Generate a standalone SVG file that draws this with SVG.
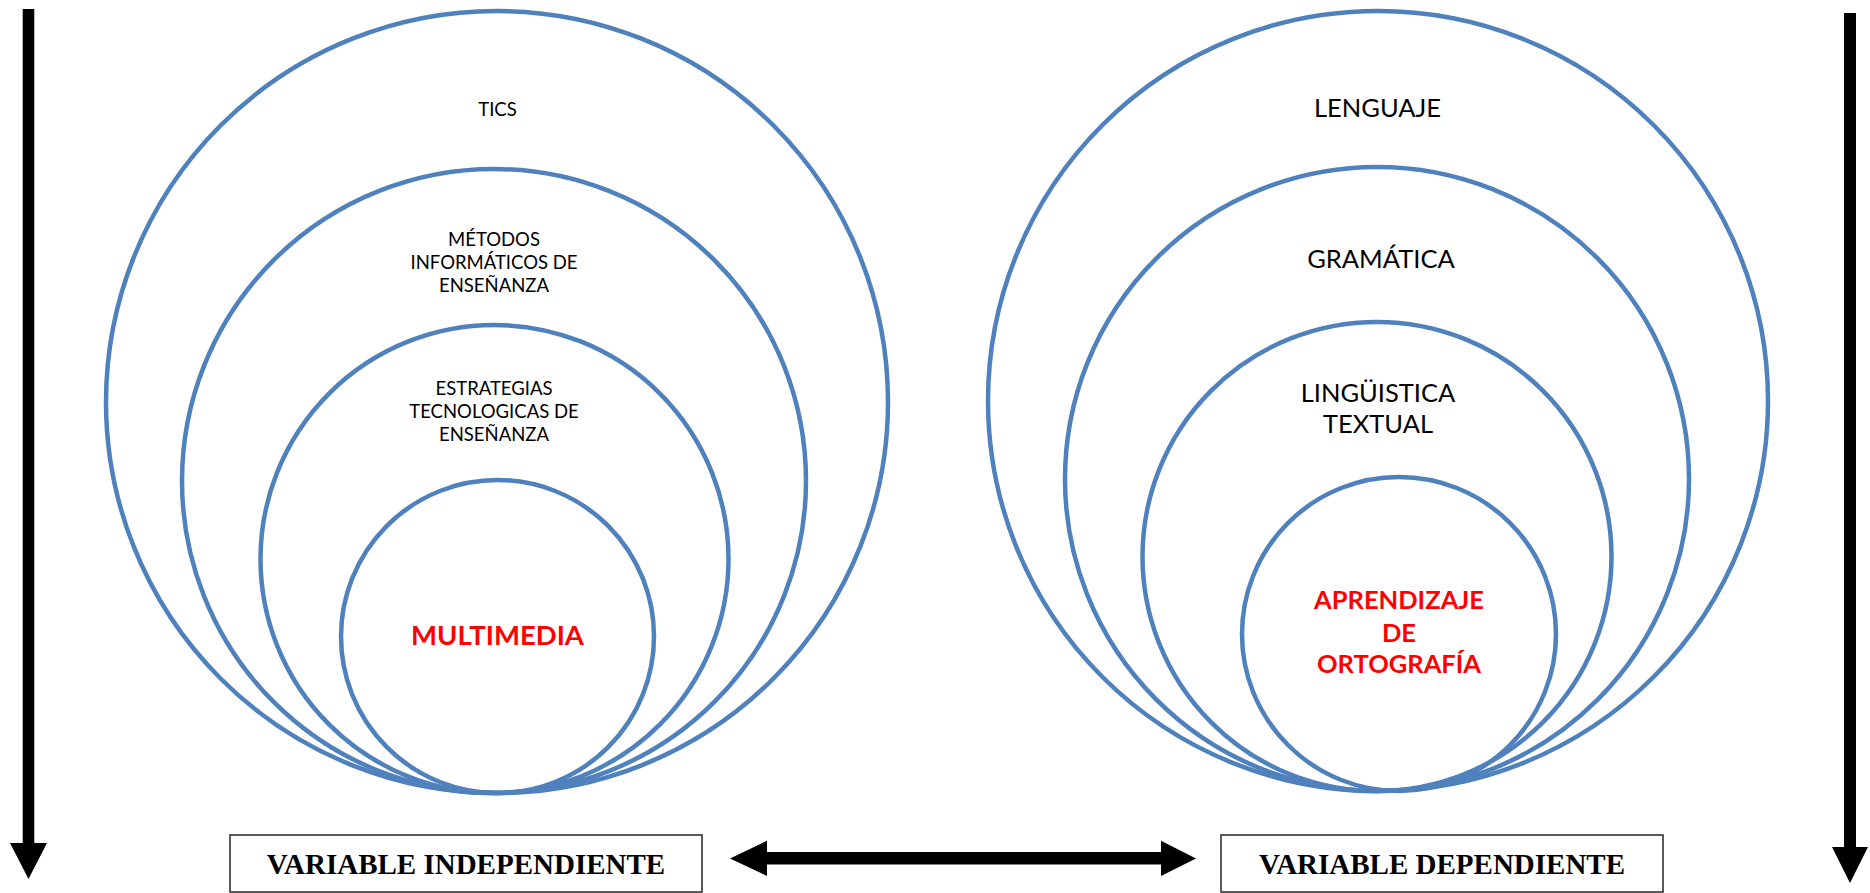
<svg xmlns="http://www.w3.org/2000/svg" width="1870" height="893" viewBox="0 0 1870 893">
<style>
.c{fill:none;stroke:#4F81BD;stroke-width:4.5}
.t{font-family:Lato,"Open Sans",sans-serif;fill:#000;text-anchor:middle}
.s{font-size:18.5px}
.m{font-size:25.5px}
.r{font-family:Lato,"Open Sans",sans-serif;font-weight:bold;font-size:25.5px;fill:#FF0000;text-anchor:middle}
.b{fill:#fff;stroke:#333;stroke-width:1.6}
.bt{font-family:"Liberation Serif","Times New Roman",serif;font-weight:bold;font-size:29px;fill:#000;text-anchor:middle}
.a{fill:#000}
</style>
<rect width="1870" height="893" fill="#fff"/>
<g id="left-circles">
<g id="tics"><circle class="c" cx="497" cy="402" r="391"/><text class="t s" x="497.5" y="116">TICS</text></g>
<g id="metodos"><circle class="c" cx="494" cy="481" r="312"/><text class="t s"><tspan x="494" y="246">MÉTODOS</tspan><tspan x="494" y="269">INFORMÁTICOS DE</tspan><tspan x="494" y="292">ENSEÑANZA</tspan></text></g>
<g id="estrategias"><circle class="c" cx="494.5" cy="559" r="234"/><text class="t s"><tspan x="494" y="395">ESTRATEGIAS</tspan><tspan x="494" y="418">TECNOLOGICAS DE</tspan><tspan x="494" y="441">ENSEÑANZA</tspan></text></g>
<g id="multimedia"><circle class="c" cx="497.5" cy="636.5" r="156.5"/><text class="r" x="497.5" y="645" style="font-size:27.5px">MULTIMEDIA</text></g>
</g>
<g id="right-circles">
<g id="lenguaje"><circle class="c" cx="1378" cy="401" r="390"/><text class="t m" x="1377.5" y="117">LENGUAJE</text></g>
<g id="gramatica"><circle class="c" cx="1377" cy="479" r="312"/><text class="t m" x="1381" y="268">GRAMÁTICA</text></g>
<g id="linguistica"><circle class="c" cx="1377" cy="556.5" r="234.5"/><text class="t m"><tspan x="1378" y="401.5">LINGÜISTICA</tspan><tspan x="1378" y="432.5">TEXTUAL</tspan></text></g>
<g id="aprendizaje"><circle class="c" cx="1399" cy="634" r="157"/><text class="r"><tspan x="1399" y="609">APRENDIZAJE</tspan><tspan x="1399" y="641.5">DE</tspan><tspan x="1399" y="672.5">ORTOGRAFÍA</tspan></text></g>
</g>
<g id="var-independiente"><rect class="b" x="230" y="835" width="472" height="57"/><text class="bt" x="466" y="874">VARIABLE INDEPENDIENTE</text></g>
<g id="var-dependiente"><rect class="b" x="1221" y="835" width="442" height="57"/><text class="bt" x="1442" y="874">VARIABLE DEPENDIENTE</text></g>
<g id="connectors">
<polygon class="a" points="22.7,9 34.3,9 34.3,843 47,843 28.5,879 10,843 22.7,843"/>
<polygon class="a" points="1844,13 1856,13 1856,847 1868,847 1850,883 1832,847 1844,847"/>
<polygon class="a" points="730,858.4 767,840.7 767,852 1161,852 1161,840.7 1196,858.4 1161,876 1161,864.5 767,864.5 767,876"/>
</g>
</svg>
